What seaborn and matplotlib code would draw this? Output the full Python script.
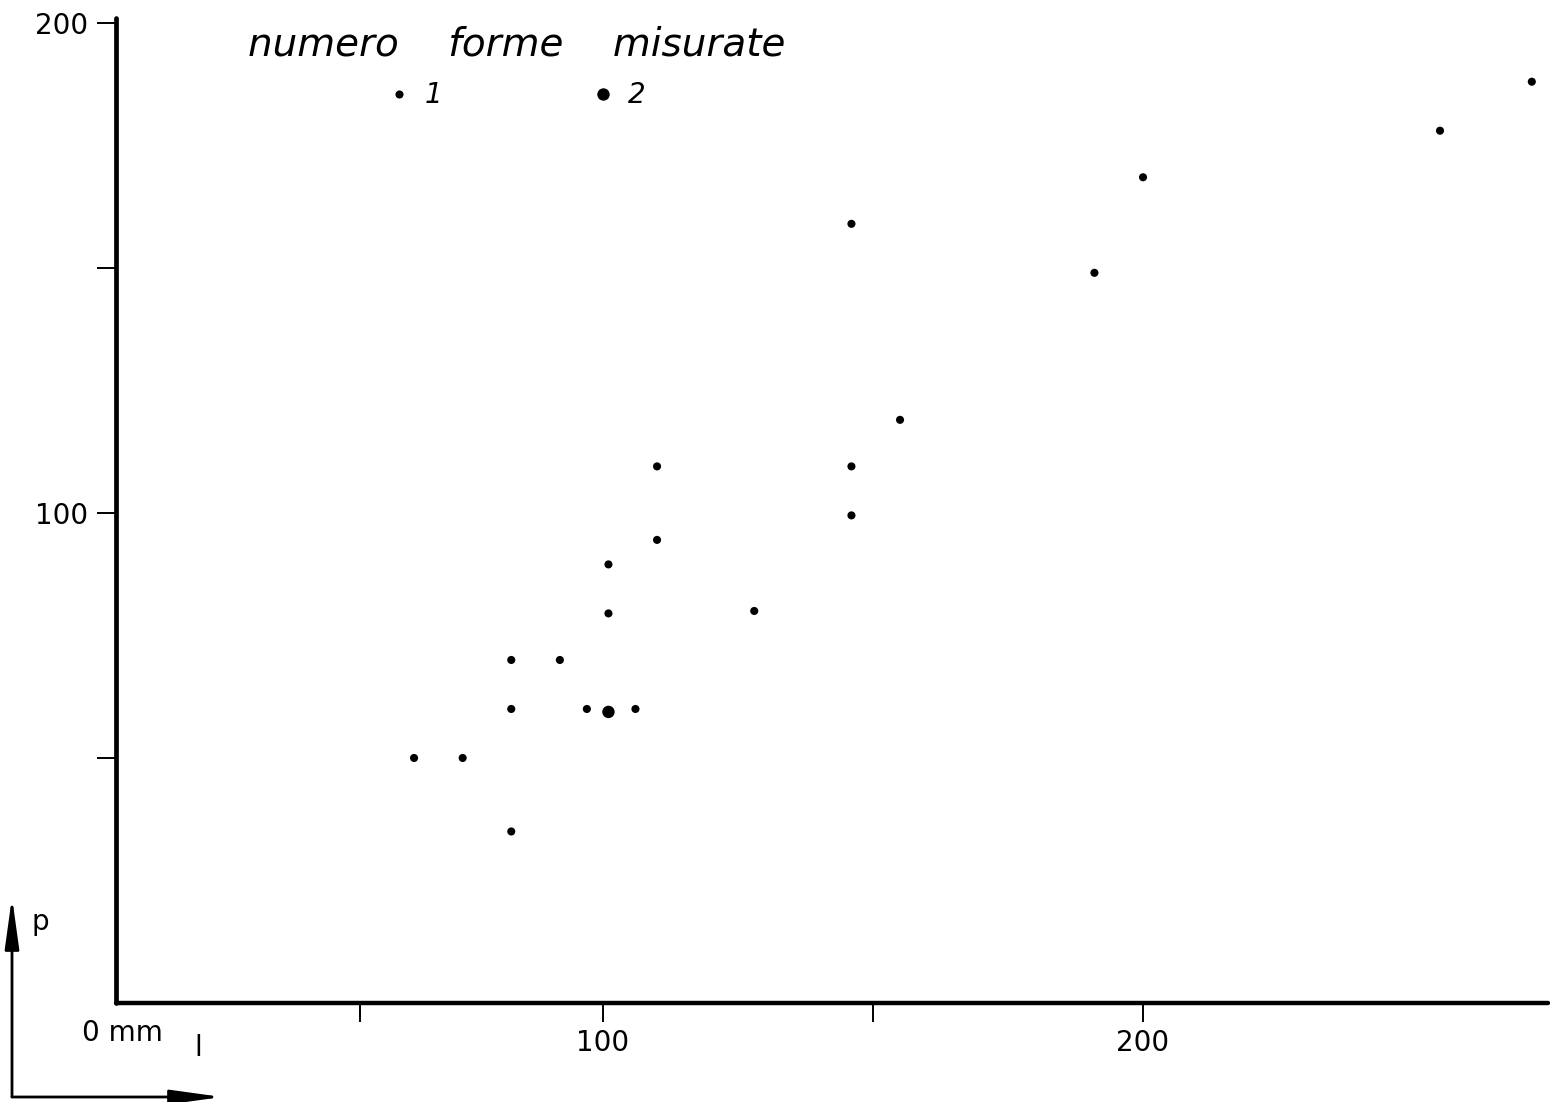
import matplotlib
matplotlib.use('Agg')
import matplotlib.pyplot as plt
import seaborn as sns
import pandas as pd

# ── Data ────────────────────────────────────────────────────
# l = length (mm), p = weight, n = numero forme misurate
l_mm = [65, 74, 83, 83, 83, 92, 97, 101, 106, 101, 101, 110, 110,
        128, 146, 146, 146, 155, 191, 200, 255, 272]
p_val = [50, 50, 35, 60, 70, 70, 60, 59.4, 60, 79.5, 89.5, 94.5, 109.5,
         80, 99.5, 109.5, 159, 119, 149, 168.5, 178, 188]
n_forme = [1, 1, 1, 1, 1, 1, 1, 2, 1, 1, 1, 1, 1,
           1, 1, 1, 1, 1, 1, 1, 1, 1]

x_ticks = [55, 100, 150, 200]
x_ticklabels = ['', '100', '', '200']
y_ticks = [50, 100, 150, 200]
y_ticklabels = ['', '100', '', '200']

df = pd.DataFrame({'l': l_mm, 'p': p_val, 'n': n_forme})

sns.set_style('white')
plt.rcParams['font.family'] = ['DejaVu Sans']
plt.rcParams['text.color'] = 'black'

W, H = 1550, 1102
fig = plt.figure(figsize=(W / 100, H / 100), dpi=100)
ax = fig.add_axes([116 / W, 1 - 1003 / H, 1432 / W, 985 / H])

sns.scatterplot(data=df, x='l', y='p', size='n', sizes={1: 34, 2: 80},
                color='black', edgecolor='none', linewidth=0,
                legend='full', ax=ax)

ax.set_xlim(9.8, 275)
ax.set_ylim(0, 201)
ax.set_xlabel('')
ax.set_ylabel('')

ax.set_xticks(x_ticks)
ax.set_xticklabels(x_ticklabels)
ax.set_yticks(y_ticks)
ax.set_yticklabels(y_ticklabels)
ax.tick_params(axis='both', direction='out', length=14, width=1.4,
               color='black', labelsize=20, labelcolor='black',
               bottom=True, left=True)
ax.tick_params(axis='x', pad=5)
ax.tick_params(axis='y', pad=6)

for side in ['top', 'right']:
    ax.spines[side].set_visible(False)
ax.spines['left'].set_linewidth(3.4)
ax.spines['bottom'].set_linewidth(3.2)
for side in ['left', 'bottom']:
    ax.spines[side].set_color('black')
    ax.spines[side].set_capstyle('round')

# legend with the title "numero forme misurate"
sns.move_legend(ax, 'upper center', bbox_to_anchor=(0.28, 1.018),
                ncol=2, frameon=False, title='numero    forme    misurate',
                title_fontsize=28, fontsize=20, handlelength=0.8,
                handletextpad=0.5, columnspacing=5.4, markerscale=1.0)
leg = ax.get_legend()
leg.get_title().set_fontstyle('italic')
leg.get_title().set_color('black')
leg._legend_box.sep = 13
for t in leg.get_texts():
    t.set_fontstyle('italic')
    t.set_color('black')

# origin label and axis arrows (drawn outside the axes)
fig.text(82 / W, 1 - 1033 / H, '0 mm', fontsize=20, va='center', ha='left')
fig.text(40 / W, 1 - 922 / H, 'p', fontsize=20, va='center', ha='center')
fig.text(198 / W, 1 - 1048 / H, 'l', fontsize=20, va='center', ha='center')

arrow = dict(arrowstyle='-|>,head_length=1.3,head_width=0.18', lw=2.0,
             color='black', mutation_scale=24, shrinkA=0, shrinkB=0)
fig.add_artist(matplotlib.patches.FancyArrowPatch(
    (12 / W, 5 / H), (12 / W, 205 / H), transform=fig.transFigure, **arrow))
fig.add_artist(matplotlib.patches.FancyArrowPatch(
    (12 / W, 5 / H), (222 / W, 5 / H), transform=fig.transFigure, **arrow))

fig.savefig('out.png', dpi=100, facecolor='white')
